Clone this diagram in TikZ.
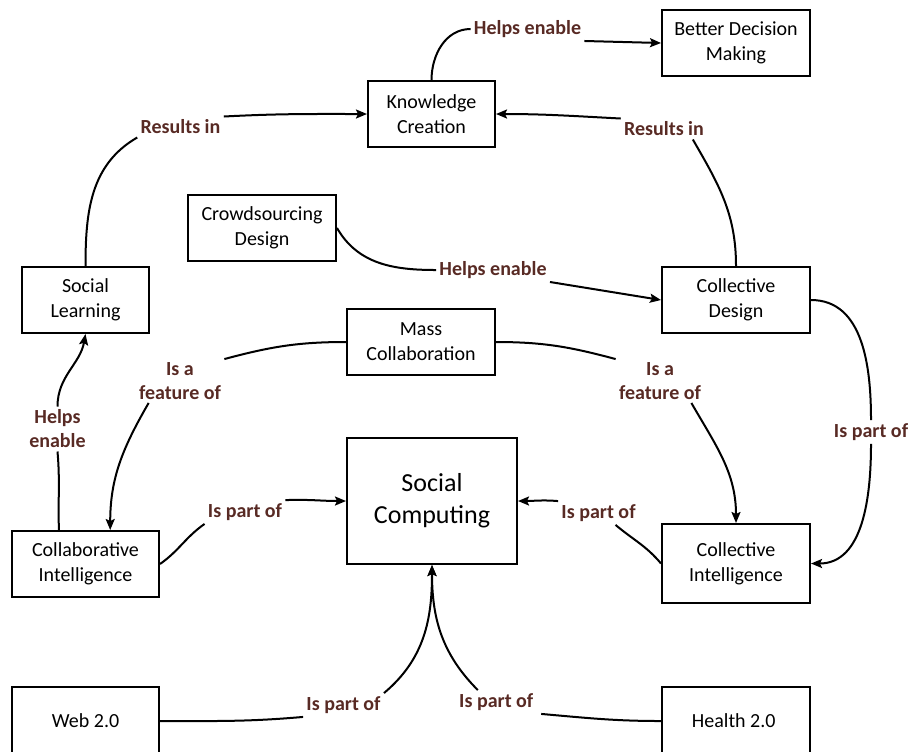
\documentclass[tikz,border=0pt]{standalone}
\usepackage{fontspec}
\setmainfont{Carlito}
\usetikzlibrary{arrows.meta}
\definecolor{labelbrown}{RGB}{88,42,36}

\begin{document}
\begin{tikzpicture}[
        x=0.5pt, y=-0.5pt,
        box/.style={draw, line width=1pt, minimum width=74pt, minimum height=33pt, align=center, font=\fontsize{10}{12.5}\selectfont},
        tag/.style={text=labelbrown, align=center, inner sep=1.5pt, font=\fontsize{10}{12}\selectfont\bfseries},
        link/.style={line width=1pt},
        arrow/.style={link, -{Stealth[length=5.5pt, width=4.5pt, inset=1pt]}}
    ]
        \useasboundingbox (0,0) rectangle (913,751);
        \clip (0,0) rectangle (913,751);

        % Concept boxes
        \foreach \name/\x/\y/\boxw/\boxh/\txt in {
            knowledge/431.5/114/63.5pt/33pt/{Knowledge\\Creation},
            decision/736/43/74pt/33pt/{Better Decision\\Making},
            crowd/262/228/74pt/33pt/{Crowdsourcing\\Design},
            social/85.5/300/63.5pt/33pt/{Social\\Learning},
            cdesign/736/300/74pt/33pt/{Collective\\Design},
            mass/421/342/74pt/33pt/{Mass\\Collaboration},
            collint/85.5/564/73.5pt/33pt/{Collaborative\\Intelligence},
            cint/736/563.5/74pt/39.5pt/{Collective\\Intelligence},
            web/85.5/721/73.5pt/34pt/{Web 2.0},
            health/736/721/74pt/34pt/{Health 2.0}
        } {
            \node[box, minimum width=\boxw, minimum height=\boxh] (\name) at (\x,\y) {\txt};
        }
        \node[box, minimum width=85pt, minimum height=63pt, font=\fontsize{13}{16}\selectfont] (sc) at (432,501) {Social\\Computing};

        % Link labels
        \foreach \name/\x/\y/\txt in {
            helps-top/527.5/29/{Helps enable},
            results-left/180.5/127/{Results in},
            results-right/664/129/{Results in},
            helps-mid/493/270/{Helps enable},
            feature-left/180/381/{Is a\\feature of},
            feature-right/660/381/{Is a\\feature of},
            helps-left/57.5/429/{Helps\\enable},
            part-right/871/432/{Is part of},
            part-left/245/512/{Is part of},
            part-mid/598.5/513/{Is part of},
            part-web/343.5/705/{Is part of},
            part-health/498.5/702/{Is part of}
        } {
            \node[tag] (\name) at (\x,\y) {\txt};
        }

        % Upper links
        \draw[link] (knowledge.north) to[out=90, in=180] (helps-top.west);
        \draw[arrow] (helps-top.south east) -- (decision.west);
        \draw[link] (social.north) to[out=90, in=-150] (results-left.south west);
        \draw[arrow] (results-left.north east) to[out=3, in=180] (knowledge.west);
        \draw[link] (cdesign.north) to[out=90, in=-60] (results-right.-20);
        \draw[arrow] (results-right.north west) to[out=177, in=0] (knowledge.east);
        \draw[link] (crowd.east) to[out=-60, in=180] (helps-mid.west);
        \draw[arrow] (helps-mid.south east) -- (cdesign.west);

        % Middle links
        \draw[link] (mass.west) to[out=180, in=15] (feature-left.north east);
        \draw[arrow] (feature-left.-145) to[out=-120, in=90] (collint.54);
        \draw[link] (mass.east) to[out=0, in=165] (feature-right.north west);
        \draw[arrow] (feature-right.-35) to[out=-60, in=90] (cint.north);
        \draw[link] (collint.128) to[out=92, in=-85] (helps-left.south);
        \draw[arrow] (helps-left.north) to[out=90, in=-100] (social.south);
        \draw[link] (cdesign.east) to[out=0, in=90] (part-right.north);
        \draw[arrow] (part-right.south) to[out=-90, in=0] (cint.east);

        % Lower links
        \draw[link] (collint.east) to[out=35, in=-145] (part-left.south west);
        \draw[arrow] (part-left.north east) to[out=2, in=180] (sc.west);
        \draw[link] (cint.west) to[out=130, in=-40] (part-mid.-35);
        \draw[arrow] (part-mid.north west) to[out=175, in=0] (sc.east);
        \draw[link] (web.east) to[out=0, in=185] (part-web.south west);
        \draw[arrow] (part-web.north east) to[out=40, in=-90] (sc.south);
        \draw[link] (health.west) to[out=180, in=-5] (part-health.south east);
        \draw[arrow] (part-health.150) to[out=135, in=-90] (sc.south);
    \end{tikzpicture}
\end{document}
